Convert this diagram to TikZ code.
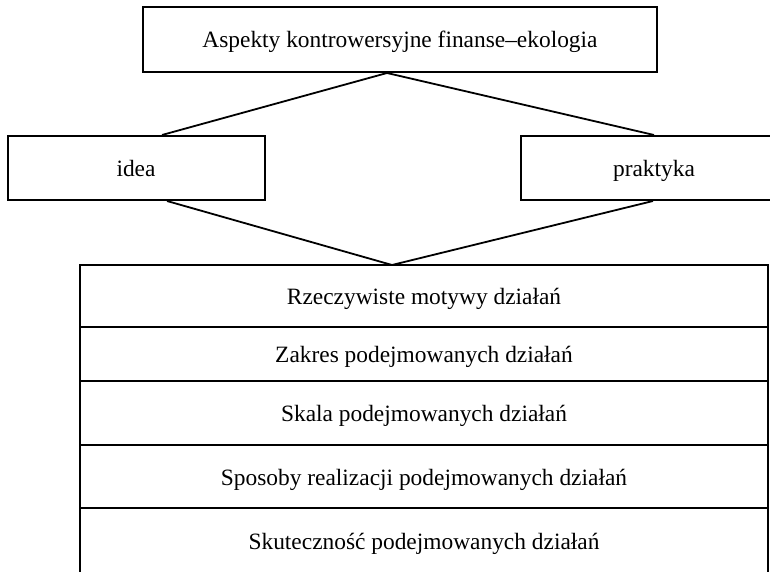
\documentclass[tikz,border=0pt]{standalone}
\usepackage{fontspec}
\setmainfont{Liberation Serif}
\usetikzlibrary{positioning}
\tikzset{
  box/.style={draw,line width=1pt,inner sep=2pt,align=center,text height=9.5pt,text depth=1pt,font=\fontsize{11.7}{14}\selectfont},
  rowbox/.style={box,minimum width=344pt,outer sep=0pt},
  link/.style={draw,line width=0.9pt},
}
\begin{document}
\begin{tikzpicture}[x=0.5pt,y=-0.5pt]
\useasboundingbox (0,0) rectangle (770,572);
\clip (0,0) rectangle (770,572);
\node[box,minimum width=257pt,minimum height=32.5pt] (top) at (400,39.5) {Aspekty kontrowersyjne finanse–ekologia};
\node[box,minimum width=128.5pt,minimum height=32pt] (idea) at (136,168) {idea};
\node[box,minimum width=133pt,minimum height=32pt] (prak) at (654,168) {praktyka};
\node[rowbox,minimum height=31pt] (motywy) at (424,296) {Rzeczywiste motywy działań};
\node[rowbox,minimum height=27pt,below=0pt of motywy] (zakres) {Zakres podejmowanych działań};
\node[rowbox,minimum height=32pt,below=0pt of zakres] (skala) {Skala podejmowanych działań};
\node[rowbox,minimum height=31.5pt,below=0pt of skala] (sposoby) {Sposoby realizacji podejmowanych działań};
\node[rowbox,minimum height=33pt,below=0pt of sposoby] (skut) {Skuteczność podejmowanych działań};
\coordinate (topjoin) at ([xshift=-6.5pt]top.south);
\coordinate (rowjoin) at ([xshift=-16pt]motywy.north);
\draw[link] ([xshift=13pt]idea.north) -- (topjoin) -- (prak.north);
\draw[link] ([xshift=15.5pt]idea.south) -- (rowjoin) -- ([xshift=-0.5pt]prak.south);
\end{tikzpicture}
\end{document}
